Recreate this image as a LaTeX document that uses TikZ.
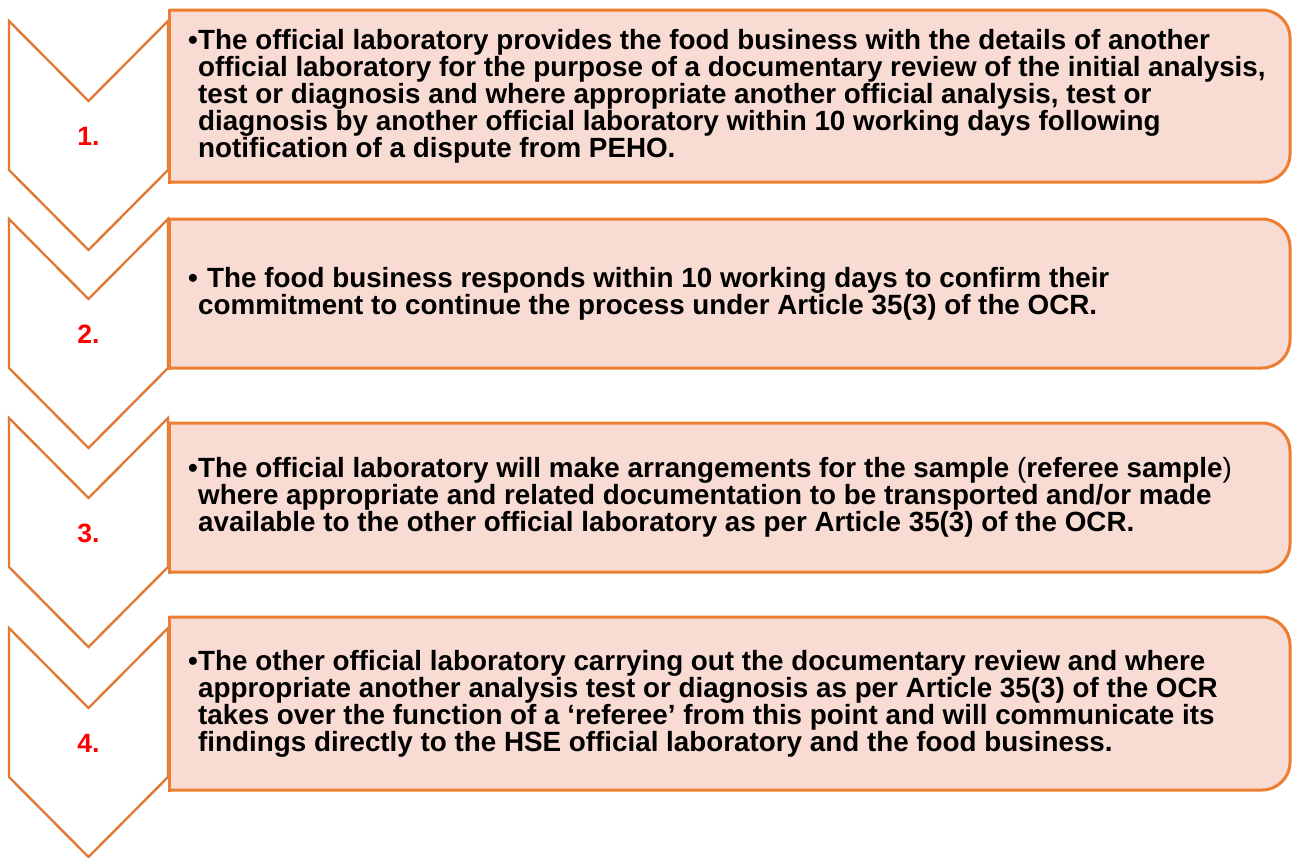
\documentclass[tikz,border=0pt]{standalone}
\usepackage{fontspec}
\setmainfont{Liberation Sans}
\definecolor{orline}{HTML}{ED7D31}
\definecolor{chline}{HTML}{E07A36}
\definecolor{boxfill}{HTML}{F8DBD3}
\definecolor{numred}{HTML}{FF0000}
\newcommand\bl{\makebox[10pt][l]{•}}
\newcommand\blw{\makebox[19pt][l]{•}}
\newcommand\ind{\hspace*{10pt}}
\tikzset{
  chev/.style={draw=chline, line width=2.4pt, fill=white, line join=miter},
  panel/.style={draw=orline, line width=3pt, fill=boxfill},
  ledge/.style={draw=orline, line width=3pt, line cap=rect},
  numlabel/.style={text=numred, font=\bfseries\fontsize{26.5}{27}\selectfont, inner sep=0pt},
  txt/.style={anchor=west, align=left, inner sep=0pt, font=\bfseries\fontsize{27.8}{27}\selectfont}
}
\begin{document}
\begin{tikzpicture}[x=1pt,y=-1pt]
\useasboundingbox (0,0) rectangle (1292,857);
% chevrons
\foreach \t/\n/\lab in {21/c1/1., 219/c2/2., 418/c3/3., 628/c4/4.}{
  \draw[chev] (9,\t) -- (88.5,\t+80) -- (168,\t) -- (168,\t+149) -- (88.5,\t+229) -- (9,\t+149) -- cycle;
  \node[numlabel] (\n) at (88.5,\t+115) {\lab};
}
% panels (right corners rounded)
\foreach \tp/\bt in {10/182, 219/368, 423/572, 617/790}{
  \fill[boxfill] (169,\tp) [rounded corners=28pt] -- (1290,\tp) -- (1290,\bt) -- (169,\bt);
  \draw[panel, fill=none, rounded corners=28pt] (169,\tp) -- (1290,\tp) -- (1290,\bt) -- (169,\bt);
  \draw[ledge] (169,\tp) -- (169,\bt);
}
\node[txt] (t1) at (188,96) {\bl The official laboratory provides the food business with the details of another\\
\ind official laboratory for the purpose of a documentary review of the initial analysis,\\
\ind test or diagnosis and where appropriate another official analysis, test or\\
\ind diagnosis by another official laboratory within 10 working days following\\
\ind notification of a dispute from PEHO.};
\node[txt] (t2) at (188,293.5) {\blw The food business responds within 10 working days to confirm their\\
\ind commitment to continue the process under Article 35(3) of the OCR.};
\node[txt] (t3) at (188,497) {\bl The official laboratory will make arrangements for the sample {\mdseries(}referee sample{\mdseries)}\\
\ind where appropriate and related documentation to be transported and/or made\\
\ind available to the other official laboratory as per Article 35(3) of the OCR.};
\node[txt] (t4) at (188,703.5) {\bl The other official laboratory carrying out the documentary review and where\\
\ind appropriate another analysis test or diagnosis as per Article 35(3) of the OCR\\
\ind takes over the function of a ‘referee’ from this point and will communicate its\\
\ind findings directly to the HSE official laboratory and the food business.};
\end{tikzpicture}
\end{document}
